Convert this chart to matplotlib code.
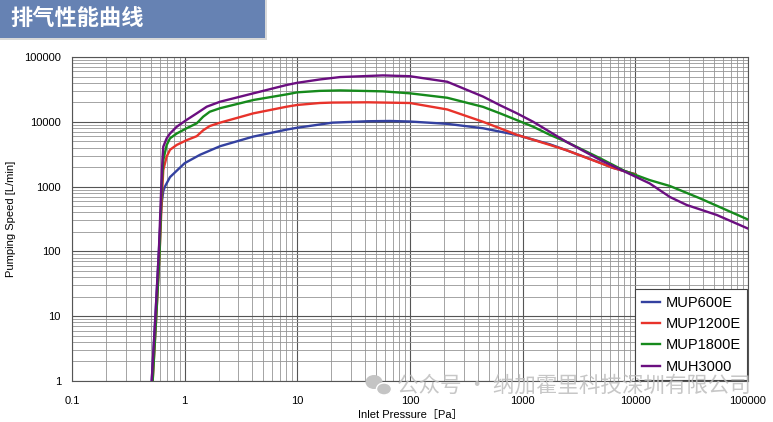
import matplotlib.pyplot as plt
from matplotlib.patches import Rectangle, Ellipse
from matplotlib.ticker import LogLocator, FixedLocator, NullFormatter

plt.rcParams['font.family'] = ['Liberation Sans', 'Noto Sans CJK SC', 'DejaVu Sans']

title = "排气性能曲线"
xlabel = "Inlet Pressure［Pa］"
ylabel = "Pumping Speed [L/min]"
watermark = "公众号 · 纳加霍里科技深圳有限公司"

series_names = ["MUP600E", "MUP1200E", "MUP1800E", "MUH3000"]
series_colors = ["#3441a0", "#e8332b", "#168a1c", "#6b0f80"]

# inlet pressure [Pa] / pumping speed [L/min]
p_600 = [0.51, 0.55, 0.59, 0.62, 0.646, 0.668, 0.741, 1.0, 1.37, 2.06, 4.04, 8.1,
         10, 20.5, 42, 66, 100, 214, 445, 890, 1740, 2450, 4840, 6300, 10000]
s_600 = [1, 10, 100, 500, 850, 1000, 1400, 2300, 3100, 4200, 5900, 7600,
         8100, 9700, 10200, 10300, 10100, 9300, 7950, 6250, 4500, 3640, 2350, 1950, 1550]

p_1200 = [0.52, 0.56, 0.60, 0.63, 0.646, 0.692, 0.741, 0.851, 1.04, 1.28, 1.46, 1.67,
          2.06, 4.07, 8.04, 10, 15.8, 20.5, 42, 100, 214, 445, 890, 1740, 2450, 6300, 10000]
s_1200 = [1, 10, 100, 800, 1800, 2900, 3700, 4400, 5200, 6000, 7400, 8600,
          9700, 13500, 17100, 18200, 19500, 19800, 20000, 19500, 15500, 10000, 6300, 4400,
          3640, 1950, 1550]

p_1800 = [0.52, 0.56, 0.60, 0.625, 0.646, 0.692, 0.741, 0.851, 1.04, 1.28, 1.46, 1.67,
          2.06, 4.07, 8.04, 10, 15.8, 24, 57.5, 100, 214, 445, 630, 1240, 1740, 2450,
          4840, 8070, 13400, 20300, 37400, 100000]
s_1800 = [1, 10, 100, 1000, 2570, 4370, 5560, 6600, 7940, 9480, 12000, 14300,
          16200, 21700, 26500, 28500, 30000, 30500, 29500, 27500, 23500, 17000, 13500, 8400,
          6300, 4900, 2750, 1740, 1260, 1020, 660, 310]

p_3000 = [0.51, 0.55, 0.59, 0.62, 0.635, 0.646, 0.692, 0.741, 0.851, 1.04, 1.28, 1.57,
          2.06, 4.07, 8.04, 10, 15.8, 23.9, 57.5, 100, 214, 445, 630, 890, 1240, 2450,
          4840, 8070, 13400, 20300, 28600, 52800, 100000]
s_3000 = [1, 10, 100, 1000, 2600, 4130, 5560, 6600, 8400, 10700, 13500, 17100,
          20400, 27500, 37000, 40000, 45000, 49000, 52000, 50500, 41500, 24500, 18000, 13500,
          10000, 4900, 2600, 1700, 1120, 690, 520, 365, 225]

x_ticks = [0.1, 1, 10, 100, 1000, 10000, 100000]
y_ticks = [1, 10, 100, 1000, 10000, 100000]

W, H = 773, 422
fig = plt.figure(figsize=(W / 100, H / 100), dpi=100)

# header banner
fig.patches.append(Rectangle((0, 1 - 40 / H), 267 / W, 40 / H, transform=fig.transFigure,
                             facecolor="#d9d9d9", edgecolor="none", zorder=0))
fig.patches.append(Rectangle((0, 1 - 38 / H), 265 / W, 38 / H, transform=fig.transFigure,
                             facecolor="#6682b3", edgecolor="none", zorder=1))
fig.text(10 / W, 1 - 18 / H, title, color="white", fontsize=16, fontweight="bold",
         va="center", ha="left", family=["Noto Sans CJK SC"])

ax = fig.add_axes([72 / W, 1 - 381 / H, 676 / W, 324 / H])
ax.set_xscale("log")
ax.set_yscale("log")
ax.set_xlim(0.1, 100000)
ax.set_ylim(1, 100000)

for xs, ys, name, col in zip([p_600, p_1200, p_1800, p_3000],
                             [s_600, s_1200, s_1800, s_3000],
                             series_names, series_colors):
    ax.plot(xs, ys, color=col, lw=1.7, label=name, zorder=3, solid_joinstyle="round")

ax.xaxis.set_major_locator(FixedLocator(x_ticks))
ax.yaxis.set_major_locator(FixedLocator(y_ticks))
ax.xaxis.set_minor_locator(LogLocator(base=10, subs=range(2, 10), numticks=20))
ax.yaxis.set_minor_locator(LogLocator(base=10, subs=range(2, 10), numticks=20))
ax.xaxis.set_minor_formatter(NullFormatter())
ax.yaxis.set_minor_formatter(NullFormatter())
ax.set_xticklabels([str(v) for v in x_ticks])
ax.set_yticklabels([str(v) for v in y_ticks])
ax.tick_params(which="both", length=0, labelsize=8, colors="#000000")
ax.tick_params(axis="x", pad=11)
ax.tick_params(axis="y", pad=8)

ax.grid(which="major", color="#555555", lw=0.8)
ax.grid(which="minor", color="#959595", lw=0.6)
ax.set_axisbelow(True)
for sp in ax.spines.values():
    sp.set_color("#555555")
    sp.set_linewidth(0.8)

ax.set_xlabel(xlabel, fontsize=8, labelpad=3)
ax.set_ylabel(ylabel, fontsize=8, labelpad=6)

leg = ax.legend(loc="lower right", bbox_to_anchor=(1.0, 0.0), fontsize=10.5,
                frameon=True, fancybox=False, edgecolor="#444444", framealpha=1,
                handlelength=1.3, handletextpad=0.35, borderpad=0.45, labelspacing=0.5,
                borderaxespad=0.05)
leg.get_frame().set_linewidth(0.8)
leg.set_zorder(5)

# watermark
fig.patches.append(Ellipse((374 / W, 1 - 382 / H), 17 / W, 14 / H, transform=fig.transFigure,
                           facecolor="#c4c4c4", edgecolor="none", zorder=9))
fig.patches.append(Ellipse((384 / W, 1 - 389 / H), 15 / W, 12 / H, transform=fig.transFigure,
                           facecolor="#c4c4c4", edgecolor="white", lw=1, zorder=9))
fig.text(397 / W, 1 - 386 / H, watermark, color="#bdbdbd", fontsize=15.5, alpha=0.85,
         va="center", ha="left", family=["Noto Sans CJK SC"], zorder=10)

fig.savefig("out.png", dpi=100)
